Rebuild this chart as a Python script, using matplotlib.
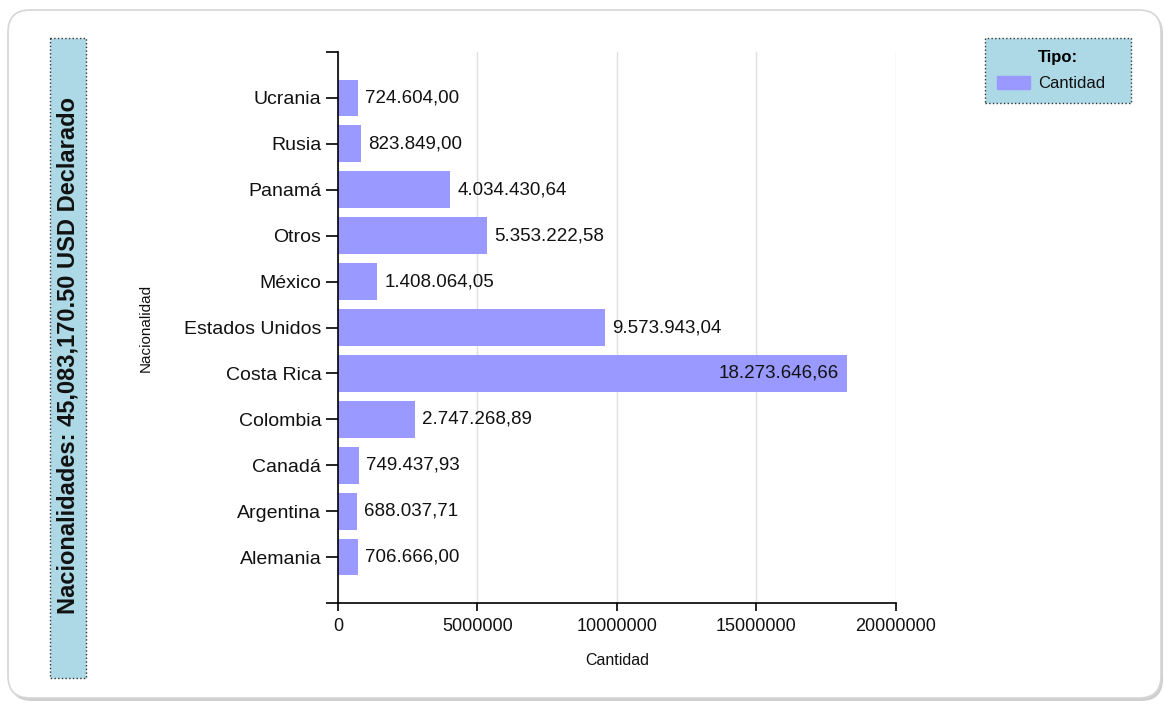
import numpy as np
import matplotlib
matplotlib.use("Agg")
import matplotlib.pyplot as plt
from matplotlib.patches import FancyBboxPatch, Rectangle, Patch

plt.rcParams['font.family'] = ['Liberation Sans', 'DejaVu Sans']

# data (bottom to top as drawn)
paises = ['Alemania', 'Argentina', 'Canadá', 'Colombia', 'Costa Rica', 'Estados Unidos',
          'México', 'Otros', 'Panamá', 'Rusia', 'Ucrania']
cantidad = [706666.00, 688037.71, 749437.93, 2747268.89, 18273646.66, 9573943.04,
            1408064.05, 5353222.58, 4034430.64, 823849.00, 724604.00]
total_usd = 45083170.50
x_ticks = [0, 5000000, 10000000, 15000000, 20000000]

bar_color = '#9999ff'
box_color = '#add8e6'
text_color = '#111111'

W, H = 1167, 704


def fmt_es(v):
    s = f"{v:,.2f}"
    return s.replace(',', 'X').replace('.', ',').replace('X', '.')


fig = plt.figure(figsize=(W / 100, H / 100), dpi=100)

# background frame, title box (pixel coordinates)
bg = fig.add_axes([0, 0, 1, 1], zorder=-1)
bg.set_xlim(0, W)
bg.set_ylim(H, 0)
bg.axis('off')
bg.add_patch(FancyBboxPatch((10, 12), 1153, 689, boxstyle="round,pad=0,rounding_size=22",
                            fc='#cfcfcf', ec='none'))
bg.add_patch(FancyBboxPatch((8, 10), 1153, 688, boxstyle="round,pad=0,rounding_size=22",
                            fc='white', ec='#d6d6d6', lw=1.2))
bg.add_patch(Rectangle((50, 38), 36, 640, fc=box_color, ec='#333333', lw=1, ls=':'))
bg.text(68, 356, f"Nacionalidades: {total_usd:,.2f} USD Declarado", rotation=90,
        ha='center', va='center', fontsize=17, fontweight='bold', color=text_color)

# main chart
ax = fig.add_axes([338 / W, 1 - 603 / H, 557.5 / W, 551 / H])
y = np.arange(len(paises))
ax.barh(y, cantidad, height=0.8, color=bar_color, zorder=2)

ax.set_xlim(0, 20000000)
ax.set_ylim(-1, len(paises))
ax.set_xticks(x_ticks)
ax.set_xticklabels([str(t) for t in x_ticks])
ax.set_yticks(y)
ax.set_yticklabels(paises)
ax.set_yticks([-1, len(paises)], minor=True)

for s in ['top', 'right']:
    ax.spines[s].set_visible(False)
for s in ['left', 'bottom']:
    ax.spines[s].set_linewidth(1.2)

ax.tick_params(axis='y', which='both', length=9, width=1.2, pad=3, labelsize=14, labelcolor=text_color)
ax.tick_params(axis='x', length=6, width=1.2, pad=5, labelsize=13, labelcolor=text_color)
ax.xaxis.grid(True, color='#e0e0e0', lw=1)
ax.set_axisbelow(True)

vmax = max(cantidad)
for yi, v in zip(y, cantidad):
    if v == vmax:
        ax.annotate(fmt_es(v), (v, yi), xytext=(-6, 0), textcoords='offset points',
                    ha='right', va='center', fontsize=13.5, color=text_color, zorder=3)
    else:
        ax.annotate(fmt_es(v), (v, yi), xytext=(5, 0), textcoords='offset points',
                    ha='left', va='center', fontsize=13.5, color=text_color, zorder=3)

ax.set_xlabel('Cantidad', fontsize=11.5, color=text_color)
ax.xaxis.label.set_va('center')
ax.xaxis.set_label_coords(0.5, -0.105)
ax.set_ylabel('Nacionalidad', fontsize=11, color=text_color)
ax.yaxis.label.set_va('center')
ax.yaxis.set_label_coords(-0.344, 0.5)

# legend
leg = fig.legend(handles=[Patch(color=bar_color, label='Cantidad')], title='Tipo:',
                 loc='upper left', bbox_to_anchor=(985 / W, 1 - 103 / H, 146 / W, 65 / H),
                 mode='expand', fontsize=12, title_fontproperties={'weight': 'bold', 'size': 12},
                 handlelength=2.0, handleheight=0.8, handletextpad=0.5, labelspacing=0.7,
                 borderpad=0.7, borderaxespad=0, fancybox=False, labelcolor=text_color)
frame = leg.get_frame()
frame.set_facecolor(box_color)
frame.set_edgecolor('#333333')
frame.set_linestyle(':')
frame.set_linewidth(1)
frame.set_alpha(None)

fig.savefig('out.png', dpi=100)
